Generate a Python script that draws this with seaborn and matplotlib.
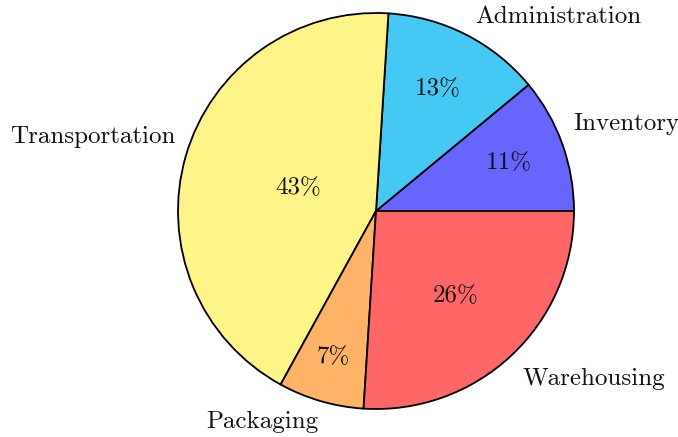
import numpy as np
import matplotlib
matplotlib.use("Agg")
import matplotlib.pyplot as plt
import matplotlib.transforms as mtransforms
import seaborn as sns

# Logistics cost breakdown
categories = ["Inventory", "Administration", "Transportation", "Packaging", "Warehousing"]
shares = [11, 13, 43, 7, 26]
slice_colors = ["#6666ff", "#45c8f3", "#fff488", "#ffb366", "#ff6666"]

# radial position of each percentage label (fraction of radius)
pct_radius = [0.71, 0.69, 0.41, 0.77, 0.59]
# radial position, anchoring and nudge (points) of each category label
label_radius = [1.057, 1.10, 1.057, 1.05, 1.084]
label_ha = ["left", "left", "right", "right", "left"]
label_va = ["bottom", "center", "bottom", "top", "top"]
label_nudge_y = [3.6, 0.0, 3.6, 0.0, 0.0]

sns.set_theme(style="white")
plt.rcParams["font.family"] = ["cmr10", "DejaVu Serif"]
plt.rcParams["axes.formatter.use_mathtext"] = True

fig = plt.figure(figsize=(6.78, 4.37), dpi=100)
ax = fig.add_axes([0, 0, 1, 1])

wedges, texts, autotexts = ax.pie(
    shares,
    labels=categories,
    colors=slice_colors,
    startangle=0,
    counterclock=True,
    autopct=lambda p: f"{p:.0f}%",
    labeldistance=1.1,
    wedgeprops=dict(edgecolor="black", linewidth=1.3),
    textprops=dict(fontsize=18, color="#111111"),
)

total = sum(shares)
start = 0.0
for i, (t, at, s) in enumerate(zip(texts, autotexts, shares)):
    mid = np.deg2rad(start + 360.0 * s / total / 2)
    start += 360.0 * s / total
    r = pct_radius[i]
    at.set_position((r * np.cos(mid), r * np.sin(mid)))
    d = label_radius[i]
    t.set_position((d * np.cos(mid), d * np.sin(mid)))
    t.set_ha(label_ha[i])
    t.set_va(label_va[i])
    t.set_transform(ax.transData + mtransforms.ScaledTranslation(
        0, label_nudge_y[i] / 72.0, fig.dpi_scale_trans))

# place pie center and radius within the canvas
ax.set_xlim(-376 / 198, (678 - 376) / 198)
ax.set_ylim(-(437 - 211) / 198, 211 / 198)
ax.set_aspect("equal")
ax.axis("off")

fig.savefig("out.png", dpi=100, facecolor="white")
